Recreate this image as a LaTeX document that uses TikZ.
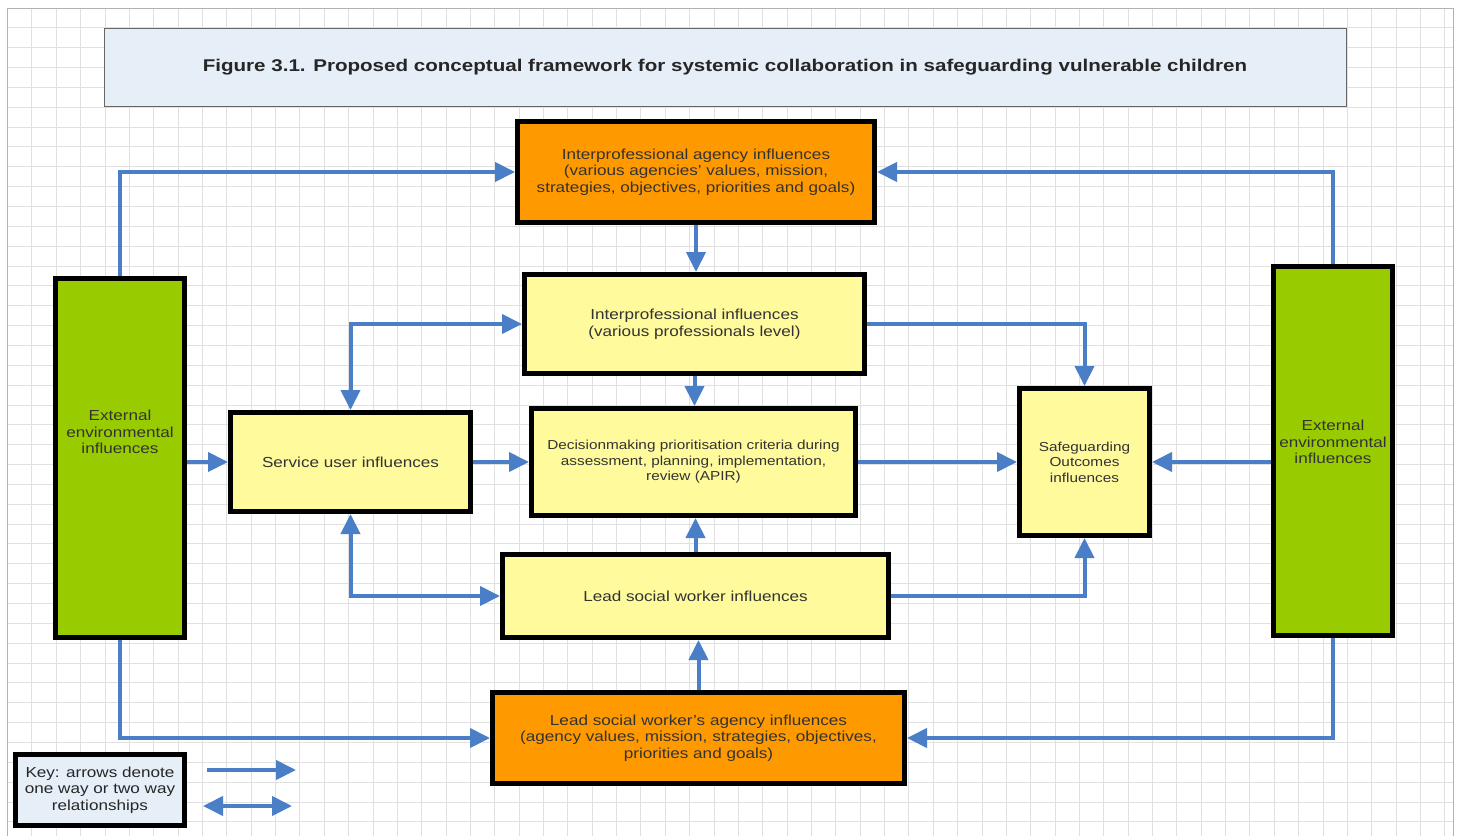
\documentclass[tikz,border=0pt]{standalone}
\usepackage{fontspec}
\setmainfont[FakeStretch=1.18]{Liberation Sans}
\newfontfamily\titlefont[FakeStretch=1.21]{Liberation Sans}
\usetikzlibrary{arrows.meta}
\definecolor{arrblue}{HTML}{4A7EC7}
\definecolor{orng}{HTML}{FF9900}
\definecolor{yell}{HTML}{FFFA9C}
\definecolor{grn}{HTML}{99CC00}
\definecolor{pale}{HTML}{E6EEF8}
\definecolor{gridc}{HTML}{E0E0E0}
\definecolor{txt}{HTML}{333333}
\tikzset{
  box/.style={draw=black, line width=5pt, inner sep=2pt, align=center, text=txt, font=\fontsize{14.5}{16.5}\selectfont},
  orangebox/.style={box, fill=orng},
  yellowbox/.style={box, fill=yell},
  greenbox/.style={box, fill=grn},
  smalltext/.style={font=\fontsize{13}{15.5}\selectfont},
  arr/.style={draw=arrblue, line width=4pt, -{Triangle[length=20pt,width=19pt]}},
  darr/.style={draw=arrblue, line width=4pt, {Triangle[length=20pt,width=19pt]}-{Triangle[length=20pt,width=19pt]}},
}
\begin{document}
\begin{tikzpicture}[x=1pt,y=-1pt]
\useasboundingbox (0,0) rectangle (1461,835);
\fill[white] (0,0) rectangle (1461,835);
% grid
\foreach \i in {0,...,59} { \draw[gridc, line width=1pt] ({7.6+24.36*\i},8) -- ({7.6+24.36*\i},840); }
\foreach \j in {0,...,41} { \draw[gridc, line width=1pt] (7,{8+19.85*\j}) -- (1453,{8+19.85*\j}); }
\draw[gray!60, line width=1pt] (7,8) rectangle (1453,845);
% title
\node[draw=gray!80!black, line width=1pt, fill=pale, minimum width=1242pt, minimum height=78pt, font=\titlefont\bfseries\fontsize{17}{19}\selectfont, text=black!85] (title) at (725,67) {Figure 3.1. Proposed conceptual framework for systemic collaboration in safeguarding vulnerable children};
% nodes
\node[orangebox, minimum width=357pt, minimum height=101pt] (agTop) at (696,172) {Interprofessional agency influences\\(various agencies' values, mission,\\strategies, objectives, priorities and goals)};
\node[yellowbox, minimum width=340pt, minimum height=99pt] (inter) at (694.5,324) {Interprofessional influences\\(various professionals level)};
\node[yellowbox, smalltext, minimum width=324pt, minimum height=107pt] (dec) at (693.5,462) {Decisionmaking prioritisation criteria during\\assessment, planning, implementation,\\review (APIR)};
\node[yellowbox, minimum width=386pt, minimum height=83pt] (lsw) at (695.5,596) {Lead social worker influences};
\node[orangebox, minimum width=412pt, minimum height=91pt] (agBot) at (698.5,738) {Lead social worker's agency influences\\(agency values, mission, strategies, objectives,\\priorities and goals)};
\node[yellowbox, minimum width=240pt, minimum height=99pt] (su) at (350.5,462) {Service user influences};
\node[yellowbox, smalltext, minimum width=130pt, minimum height=147pt] (sg) at (1084.5,462) {Safeguarding\\Outcomes\\influences};
\node[greenbox, minimum width=129pt, minimum height=359pt] (extL) at (120,458) {};
\node[align=center, text=black!80, font=\fontsize{14.5}{16.5}\selectfont] (extLt) at (120,432) {External\\environmental\\influences};
\node[greenbox, minimum width=119pt, minimum height=369pt] (extR) at (1333,451) {};
\node[align=center, text=black!80, font=\fontsize{14.5}{16.5}\selectfont] (extRt) at (1333,442) {External\\environmental\\influences};
\node[box, fill=pale, text=black!85, minimum width=169pt, minimum height=71pt] (key) at (100,790) {Key: arrows denote\\one way or two way\\relationships};
% connectors
\draw[arr] (extL.north) |- (agTop.west);
\draw[arr] (extR.north) |- (agTop.east);
\draw[arr] (agTop.south) -- (agTop.south |- inter.north);
\draw[arr] (inter.east) -| (sg.north);
\draw[darr] (su.north) |- (inter.west);
\draw[arr] (inter.south) -- (inter.south |- dec.north);
\draw[arr] (extL.east |- su.west) -- (su.west);
\draw[arr] (su.east) -- (dec.west);
\draw[arr] (dec.east) -- (sg.west);
\draw[arr] (extR.west |- sg.east) -- (sg.east);
\draw[arr] (lsw.north) -- (lsw.north |- dec.south);
\draw[darr] (su.south) |- (lsw.west);
\draw[arr] (lsw.east) -| (sg.south);
\draw[arr] (agBot.north) -- (agBot.north |- lsw.south);
\draw[arr] (extL.south) |- (agBot.west);
\draw[arr] (extR.south) |- (agBot.east);
% key arrows
\coordinate (k1a) at (207,770);
\coordinate (k1b) at (296,770);
\coordinate (k2a) at (203,806);
\coordinate (k2b) at (292,806);
\draw[arr] (k1a) -- (k1b);
\draw[darr] (k2a) -- (k2b);
\end{tikzpicture}
\end{document}
